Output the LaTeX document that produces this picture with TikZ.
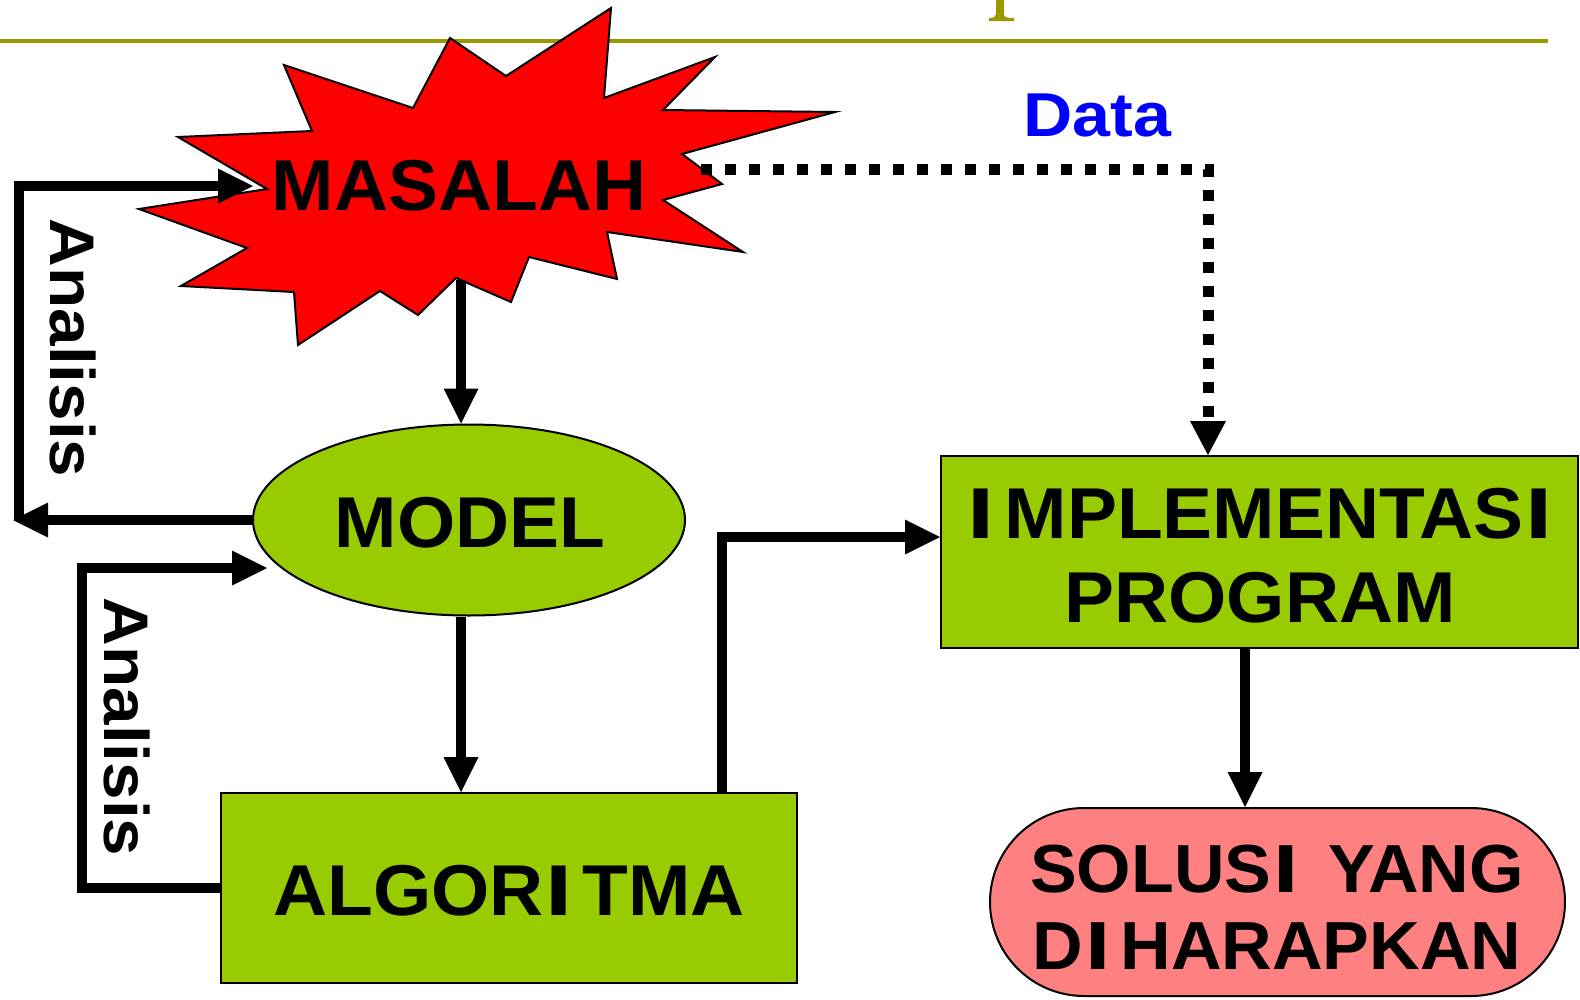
\documentclass[tikz,border=0pt]{standalone}
\usepackage{fontspec}
\usepackage{graphicx}
\setmainfont{Liberation Sans}
\newfontfamily\fbig[FakeStretch=1.04]{Liberation Sans}
\newfontfamily\fsol[FakeStretch=1.03]{Liberation Sans}
\newfontfamily\fdata[FakeStretch=1.10]{Liberation Sans}
\newfontfamily\fside[FakeStretch=1.07]{Liberation Sans}
\newcommand{\wideI}{\kern2pt\scalebox{1.3}[1]{I}\kern10pt}
\newcommand{\leadI}{\scalebox{1.3}[1]{I}\kern10pt}
\newcommand{\tailI}{\kern2pt\scalebox{1.3}[1]{I}}
\usetikzlibrary{arrows.meta,shapes.geometric,calc}
\definecolor{olivebar}{RGB}{153,153,0}
\definecolor{limegreen}{RGB}{153,204,0}
\definecolor{pinkred}{RGB}{255,128,128}
\begin{document}
\begin{tikzpicture}[x=1pt,y=-1pt,
  tipstyle/.style={-{Triangle[length=35pt,width=35pt,line width=0pt]}},
  conn/.style={line width=10.5pt, line join=miter, tipstyle},
  dotconn/.style={line width=11pt, dash pattern=on 11pt off 13pt, -{Triangle[length=34pt,width=36pt,line width=0pt]}},
  bigtxt/.style={font=\fontsize{72}{83.5}\fbig\bfseries, inner sep=0pt, align=center},
  soltxtstyle/.style={font=\fontsize{68}{77}\fsol\bfseries, inner sep=0pt, align=center},
  sidetxt/.style={font=\fontsize{63}{63}\fside\bfseries, rotate=-90, inner sep=0pt},
  greenbox/.style={rectangle, draw=black, line width=2pt, fill=limegreen, inner sep=0pt},
]
\fill[white] (0,0) rectangle (1580,999);
\useasboundingbox (0,0) rectangle (1580,999);

% top rule and title fragment
\draw[olivebar, line width=4pt] (0,40.5) -- (1548,40.5);
\fill[olivebar] (996,0) -- (1004,0) -- (1004,14) .. controls (1004,17) and (1006,18) .. (1014,18) -- (1014,21) -- (989,21) -- (989,18) .. controls (994,18) and (996,17) .. (996,14) -- cycle;

% MASALAH starburst
\filldraw[fill=red, draw=black, line width=2pt, line join=miter]
 (611,8) -- (604,98) -- (715,57) -- (663,110) -- (835,112) -- (682,154) -- (722,184) -- (663,200) -- (743,252) -- (607,232) -- (617,279) -- (529,257) -- (511,302) -- (456,278) -- (418,315) -- (380,291) -- (298,345) -- (294,292) -- (181,286) -- (247,248) -- (139,209) -- (267,189) -- (178,137) -- (312,131) -- (284,65) -- (413,108) -- (450,38) -- (506,76) -- cycle;
\node[bigtxt] (masalah) at (459,185.5) {MASALAH};
\coordinate (mbot) at (461,280);
\coordinate (mleft) at (253,186);
\coordinate (mright) at (701,169);

% nodes
\node[ellipse, draw=black, line width=2pt, fill=limegreen, minimum width=432pt, minimum height=191pt, inner sep=0pt] (model) at (469,520) {};
\node[bigtxt] (modeltxt) at (470,523) {MODEL};
\node[greenbox, minimum width=576pt, minimum height=190pt] (alg) at (509,888) {};
\node[bigtxt] (algtxt) at (509,890.5) {ALGOR\wideI TMA};
\node[greenbox, minimum width=637pt, minimum height=192pt] (impl) at (1259.5,552) {};
\node[bigtxt] (impltxt) at (1260,555.5) {\leadI MPLEMENTAS\tailI\\PROGRAM};
\node[draw=black, line width=2pt, fill=pinkred, rounded corners=94pt, minimum width=575pt, minimum height=188pt, inner sep=0pt] (sol) at (1277.5,902) {};
\node[soltxtstyle] (soltxt) at (1277,907) {SOLUS\wideI\ YANG\\D\wideI HARAPKAN};

\node[font=\fontsize{62}{62}\fdata\bfseries, text=blue, inner sep=0pt] (data) at (1097.5,115.5) {Data};
\node[sidetxt] (an1) at (73.5,348) {Analisis};
\node[sidetxt] (an2) at (127.5,727) {Analisis};

% connectors
\draw[conn] (mbot) -- (mbot |- model.north);
\draw[conn] ([xshift=-8pt]model.south) -- ([xshift=-8pt]model.south |- alg.north);
\draw[conn] ([xshift=213pt]alg.north) |- ([yshift=15pt]impl.west);
\draw[conn] ([xshift=-14.5pt]impl.south) -- ([xshift=-14.5pt]impl.south |- sol.north);

\coordinate (c1tip) at (13,520);
\coordinate (c1) at (19,521);
\draw[conn] (model.west) -- (c1tip);
\draw[conn] (c1) |- (mleft);

\coordinate (l2) at (82,568);
\draw[conn] (alg.west) -| (l2) -- ([xshift=15pt,yshift=-48pt]model.west);

\draw[dotconn] (mright) -| ([xshift=-51.5pt]impl.north);
\end{tikzpicture}
\end{document}
